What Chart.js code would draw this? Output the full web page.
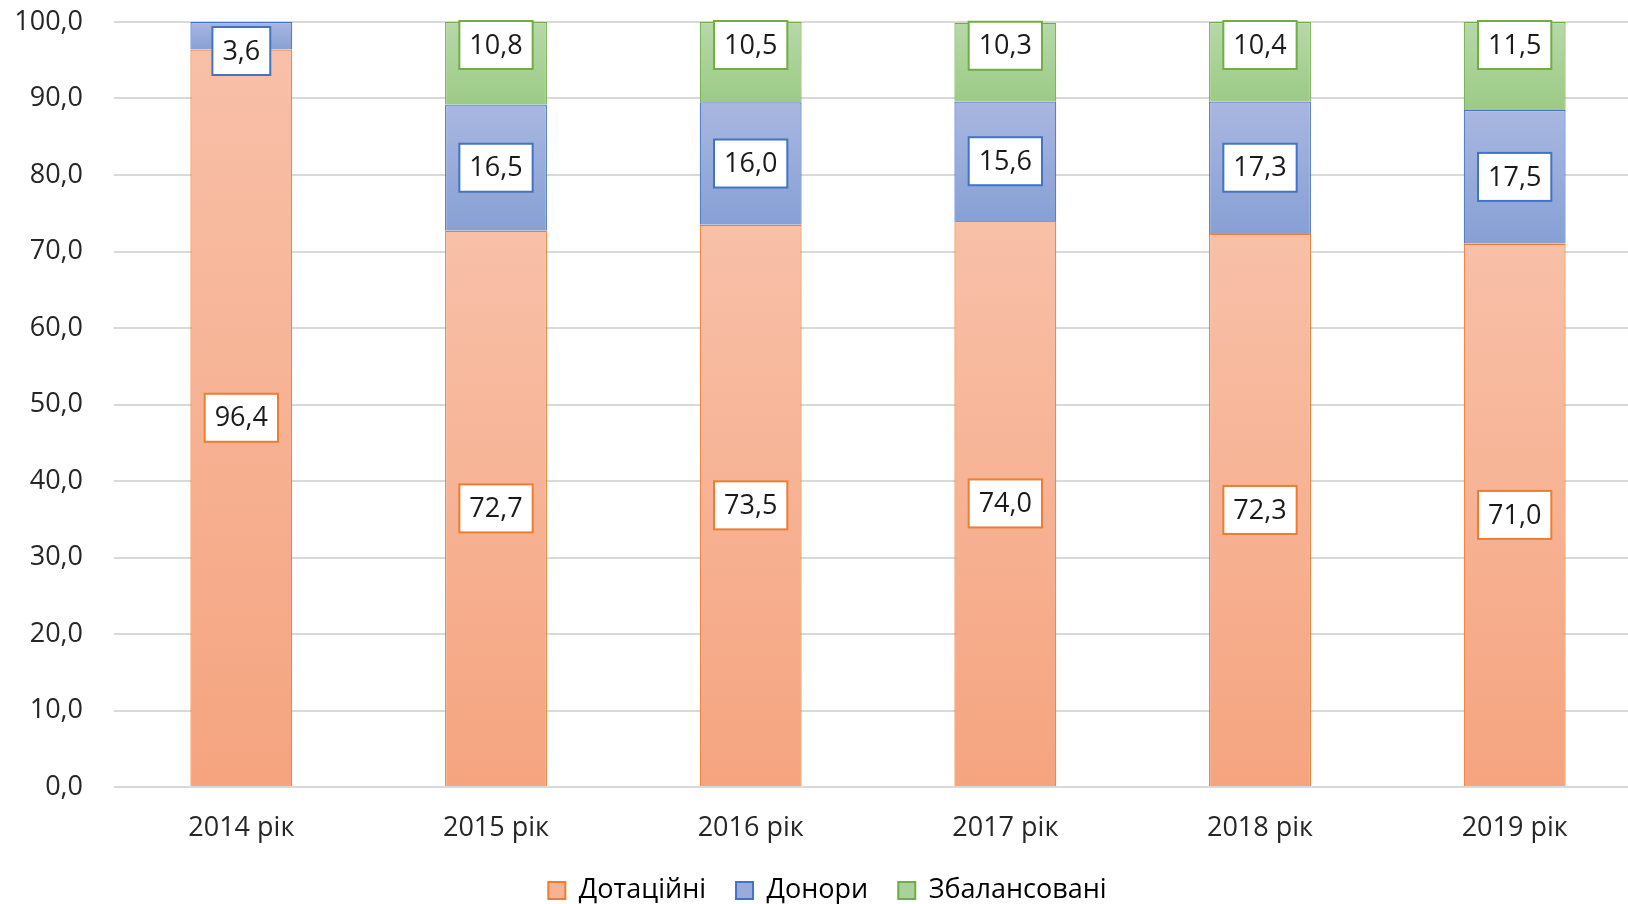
<!DOCTYPE html>
<html>
<head>
<meta charset="utf-8">
<script src="https://cdn.jsdelivr.net/npm/chart.js@4"></script>
<style>
  body { margin: 0; background: #fff; overflow: hidden; }
</style>
</head>
<body>
<!-- plot runs past the right edge, as in the cropped original -->
<canvas id="chart" width="1642" height="904"></canvas>
<script>
const years = ["2014 рік", "2015 рік", "2016 рік", "2017 рік", "2018 рік", "2019 рік"];
const dotatsiini = [96.4, 72.7, 73.5, 74.0, 72.3, 71.0];
const donory = [3.6, 16.5, 16.0, 15.6, 17.3, 17.5];
const zbalansovani = [null, 10.8, 10.5, 10.3, 10.4, 11.5];
const yTicks = [0, 10, 20, 30, 40, 50, 60, 70, 80, 90, 100];

const FONT = "'Open Sans', 'Noto Sans', sans-serif";
const series = [dotatsiini, donory, zbalansovani];

// per-segment vertical gradient, like the Excel fill
function segmentFill(light, dark) {
  return (ctx) => {
    const chart = ctx.chart;
    if (!chart.chartArea || ctx.type !== "data") return light;
    const y = chart.scales.y;
    const i = ctx.dataIndex;
    let start = 0;
    for (let d = 0; d < ctx.datasetIndex; d++) start += series[d][i] || 0;
    const end = start + (series[ctx.datasetIndex][i] || 0);
    const top = y.getPixelForValue(end);
    const bottom = y.getPixelForValue(start);
    if (!isFinite(top) || !isFinite(bottom) || top === bottom) return light;
    const g = chart.ctx.createLinearGradient(0, top, 0, bottom);
    g.addColorStop(0, light);
    g.addColorStop(1, dark);
    return g;
  };
}

const boxLabels = {
  id: "boxLabels",
  beforeLayout(chart) {
    const lg = chart.legend;
    if (lg && !lg._patched) {
      const fit = lg.fit;
      lg.fit = function () {
        fit.call(this);
        this.height = 57;
      };
      lg._patched = true;
    }
  },
  afterDatasetsDraw(chart) {
    const ctx = chart.ctx;
    const area = chart.chartArea;
    ctx.save();
    ctx.font = "27px " + FONT;
    ctx.textAlign = "center";
    ctx.textBaseline = "middle";
    chart.data.datasets.forEach((ds, di) => {
      const meta = chart.getDatasetMeta(di);
      meta.data.forEach((bar, i) => {
        const v = ds.data[i];
        if (v == null) return;
        const text = v.toFixed(1).replace(".", ",");
        const w = ctx.measureText(text).width + 20;
        const h = 48;
        let cy;
        if (di === 2) {
          cy = bar.y + 23;
        } else {
          cy = (bar.y + bar.base) / 2;
          if (cy - h / 2 < area.top + 5) cy = area.top + 5 + h / 2;
        }
        const cx = bar.x;
        ctx.fillStyle = "#ffffff";
        ctx.fillRect(cx - w / 2, cy - h / 2, w, h);
        ctx.lineWidth = 2;
        ctx.strokeStyle = ds.borderColor;
        ctx.strokeRect(cx - w / 2, cy - h / 2, w, h);
        ctx.fillStyle = "#1a1a1a";
        ctx.fillText(text, cx, cy + 1);
      });
    });
    ctx.restore();
  }
};

new Chart(document.getElementById("chart"), {
  type: "bar",
  data: {
    labels: years,
    datasets: [
      {
        label: "Дотаційні",
        data: dotatsiini,
        backgroundColor: segmentFill("#f8c0a8", "#f5a47f"),
        borderColor: "#ed7d31",
        borderWidth: 1.2
      },
      {
        label: "Донори",
        data: donory,
        backgroundColor: segmentFill("#a9b7e0", "#87a0d5"),
        borderColor: "#4472c4",
        borderWidth: 1.2
      },
      {
        label: "Збалансовані",
        data: zbalansovani,
        backgroundColor: segmentFill("#b7d8a9", "#9ccb85"),
        borderColor: "#70ad47",
        borderWidth: 1.2
      }
    ]
  },
  options: {
    responsive: false,
    animation: false,
    barPercentage: 0.4,
    categoryPercentage: 1,
    layout: { padding: { left: 13, right: 0, top: 22, bottom: 0 } },
    scales: {
      x: {
        stacked: true,
        grid: { display: false },
        border: { display: false },
        ticks: { color: "#262626", font: { family: FONT, size: 27 }, padding: 17 },
        afterFit: (axis) => { axis.height = 60; }
      },
      y: {
        stacked: true,
        min: 0,
        max: 100,
        afterBuildTicks: (axis) => { axis.ticks = yTicks.map((v) => ({ value: v })); },
        afterFit: (axis) => {
          axis.width = 101;
          axis.paddingTop = 0;
          axis.paddingBottom = 0;
        },
        grid: { color: "#d9d9d9", lineWidth: 2, drawTicks: false },
        border: { display: false },
        ticks: {
          color: "#262626",
          font: { family: FONT, size: 27 },
          padding: 31,
          callback: (v) => v.toFixed(1).replace(".", ",")
        }
      }
    },
    plugins: {
      tooltip: { enabled: false },
      legend: {
        position: "bottom",
        labels: {
          color: "#262626",
          font: { family: FONT, size: 27 },
          boxWidth: 17,
          boxHeight: 17,
          padding: 30,
          generateLabels: (chart) => chart.data.datasets.map((ds, i) => ({
            text: ds.label,
            fillStyle: ["#f7b394", "#98abdb", "#aad198"][i],
            strokeStyle: ds.borderColor,
            lineWidth: 2,
            datasetIndex: i
          }))
        }
      }
    }
  },
  plugins: [boxLabels]
});
</script>
</body>
</html>
